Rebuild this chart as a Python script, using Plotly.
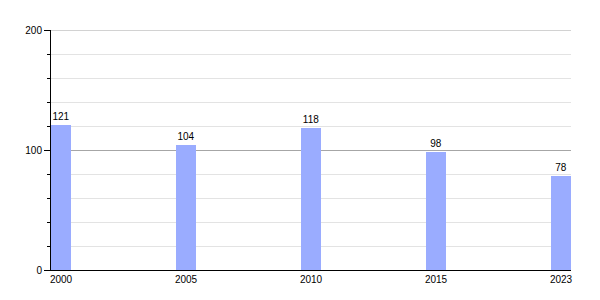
import plotly.graph_objects as go

years = ["2000", "2005", "2010", "2015", "2023"]
values = [121, 104, 118, 98, 78]
major_ticks = [0, 100, 200]
minor_ticks = [20, 40, 60, 80, 120, 140, 160, 180]

FONT = "Liberation Sans, Arial, Helvetica"

fig = go.Figure()
fig.add_trace(go.Bar(
    x=years, y=values, width=0.16,
    marker=dict(color="#9aacff", line=dict(width=0)),
    text=[str(v) for v in values], textposition="outside",
    textfont=dict(family=FONT, size=10, color="#000"),
    cliponaxis=False,
))

# top major gridline (at the end of the range)
fig.add_shape(type="line", xref="paper", yref="y", x0=0, x1=1,
              y0=major_ticks[-1], y1=major_ticks[-1],
              line=dict(color="#a6a6a6", width=1), layer="below")

fig.update_layout(
    template="none",
    width=600, height=300,
    margin=dict(l=51, r=29, t=30, b=30),
    paper_bgcolor="white", plot_bgcolor="white",
    showlegend=False, bargap=0,
    font=dict(family=FONT, size=10, color="#000"),
    xaxis=dict(
        type="category", range=[-0.08, 4.08],
        showline=True, linecolor="#000", linewidth=1,
        ticks="", showgrid=False,
        tickfont=dict(family=FONT, size=10, color="#000"),
        ticklabelstandoff=0,
    ),
    yaxis=dict(
        range=[0, 200], tickvals=major_ticks,
        showline=True, linecolor="#000", linewidth=1,
        ticks="outside", ticklen=6, tickcolor="#000", tickwidth=1,
        showgrid=True, gridcolor="#a6a6a6", gridwidth=1,
        zeroline=False,
        minor=dict(tickvals=minor_ticks, ticks="outside", ticklen=3, tickcolor="#000",
                   showgrid=True, gridcolor="#e3e3e3", gridwidth=1),
        tickfont=dict(family=FONT, size=10, color="#000"),
    ),
)

fig.write_html("out.html")
